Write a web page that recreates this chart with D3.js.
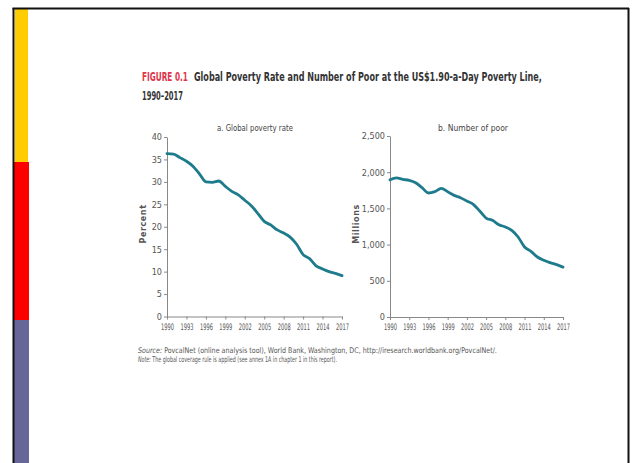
<!DOCTYPE html>
<html><head><meta charset="utf-8">
<script src="https://cdn.jsdelivr.net/npm/d3@7"></script>
<style>
html,body{margin:0;padding:0;background:#fff;}
svg{display:block;}
</style></head>
<body>
<svg id="chart" width="632" height="463"></svg>
<script>
// ---- data ----
const years = d3.range(1990, 2018);
const povertyRate = [36.3,36.2,35.4,34.6,33.5,31.8,30.0,29.9,30.2,29.0,27.9,27.1,25.9,24.7,23.0,21.2,20.4,19.3,18.6,17.7,16.1,13.8,12.9,11.3,10.6,10.0,9.6,9.1];
const numberPoor = [1895,1922,1901,1888,1855,1786,1713,1731,1777,1731,1680,1648,1602,1556,1464,1367,1335,1275,1243,1197,1105,967,907,829,783,750,723,689];
const xTickYears = [1990,1993,1996,1999,2002,2005,2008,2011,2014,2017];
const rateTicks = [0,5,10,15,20,25,30,35,40];
const poorTicks = [0,500,1000,1500,2000,2500];
const titleRed = "FIGURE 0.1";
const titleMain = "Global Poverty Rate and Number of Poor at the US$1.90-a-Day Poverty Line,";
const titleLine2 = "1990–2017";
const panelTitles = ["a. Global poverty rate", "b. Number of poor"];
const axisTitles = ["Percent", "Millions"];
const sourceText = "PovcalNet (online analysis tool), World Bank, Washington, DC, http://iresearch.worldbank.org/PovcalNet/.";
const noteText = "The global coverage rule is applied (see annex 1A in chapter 1 in this report).";

const svg = d3.select("#chart");
const FONT = "'Liberation Sans Narrow','DejaVu Sans Condensed','Roboto Condensed',sans-serif";

// place a text element so that its rendered width equals `width`, starting at x (anchor start)
function fit(sel, x, y, width) {
  sel.attr("x", 0).attr("y", 0);
  const w = sel.node().getComputedTextLength();
  const k = width / w;
  sel.attr("transform", `translate(${x},${y}) scale(${k},1)`);
  return sel;
}

// ---- slide frame ----
svg.append("rect").attr("x",15).attr("y",9).attr("width",13).attr("height",153).attr("fill","#ffcc00");
svg.append("rect").attr("x",13).attr("y",162).attr("width",16).attr("height",158).attr("fill","#ff0000");
svg.append("rect").attr("x",14).attr("y",320).attr("width",15).attr("height",143).attr("fill","#666699");
svg.append("line").attr("x1",13.5).attr("x2",13.5).attr("y1",8).attr("y2",463).attr("stroke","#111").attr("stroke-width",2);
svg.append("line").attr("x1",12.5).attr("x2",629).attr("y1",8.5).attr("y2",8.5).attr("stroke","#111").attr("stroke-width",2);
svg.append("line").attr("x1",628.5).attr("x2",628.5).attr("y1",8).attr("y2",463).attr("stroke","#111").attr("stroke-width",2);

// ---- title ----
fit(svg.append("text").attr("font-family",FONT).attr("font-weight","bold")
  .attr("font-size",13).attr("fill","#e0344a").text(titleRed), 142, 80.5, 46);
fit(svg.append("text").attr("font-family",FONT).attr("font-weight","bold")
  .attr("font-size",13).attr("fill","#333").text(titleMain), 194, 80.5, 348);
fit(svg.append("text").attr("font-family",FONT).attr("font-weight","bold")
  .attr("font-size",13).attr("fill","#333").text(titleLine2), 142, 100, 41);

// ---- panels ----
const panels = [
  {data: povertyRate, ticks: rateTicks, max: 40, x0: 167, x1: 342, y0: 316.5, y1: 137, fmt: d3.format("d"),
   title: panelTitles[0], tx: 217, tlen: 76, axis: axisTitles[0], ax: 146},
  {data: numberPoor, ticks: poorTicks, max: 2500, x0: 390, x1: 563, y0: 317, y1: 136, fmt: d3.format(","),
   title: panelTitles[1], tx: 438, tlen: 70, axis: axisTitles[1], ax: 359}
];

panels.forEach(p => {
  const x = d3.scaleLinear().domain([1990, 2017]).range([p.x0, p.x1]);
  const y = d3.scaleLinear().domain([0, p.max]).range([p.y0, p.y1]);
  const g = svg.append("g");

  const xa = g.append("g").attr("transform", `translate(0,${p.y0})`)
    .call(d3.axisBottom(x).tickValues(xTickYears).tickFormat(d3.format("d")).tickSize(3).tickSizeOuter(0).tickPadding(4));
  const ya = g.append("g").attr("transform", `translate(${p.x0},0)`)
    .call(d3.axisLeft(y).tickValues(p.ticks).tickFormat(p.fmt).tickSize(3).tickSizeOuter(0).tickPadding(2));
  [xa, ya].forEach(a => {
    a.select(".domain").attr("stroke","#888").attr("stroke-width",1);
    a.selectAll(".tick line").attr("stroke","#888");
    a.selectAll("text").attr("font-family",FONT).attr("font-size",9).attr("fill","#555");
  });
  // condense year labels horizontally around their centre
  xa.selectAll(".tick text").each(function() {
    const t = d3.select(this);
    const w = this.getComputedTextLength();
    t.attr("transform", `scale(${13 / w},1)`);
  });

  g.append("path").datum(p.data)
    .attr("fill","none").attr("stroke","#1d7b8c").attr("stroke-width",2.8)
    .attr("stroke-linejoin","round").attr("stroke-linecap","round")
    .attr("d", d3.line().x((d,i) => x(years[i])).y(d => y(d)).curve(d3.curveMonotoneX));

  fit(svg.append("text").attr("font-family",FONT).attr("font-size",9).attr("fill","#444").text(p.title),
      p.tx, 131, p.tlen);

  svg.append("text").attr("transform", `translate(${p.ax},224) rotate(-90)`).attr("text-anchor","middle")
    .attr("font-family","'DejaVu Sans',sans-serif").attr("font-weight","bold").attr("font-size",8).attr("fill","#555")
    .attr("letter-spacing",0.6).text(p.axis);
});

// ---- source / note ----
const src = svg.append("text").attr("font-family",FONT).attr("font-size",7.8).attr("fill","#555");
src.append("tspan").attr("font-style","italic").text("Source: ");
src.append("tspan").text(sourceText);
fit(src, 138, 352.5, 359);
const note = svg.append("text").attr("font-family",FONT).attr("font-size",7.8).attr("fill","#555");
note.append("tspan").attr("font-style","italic").text("Note: ");
note.append("tspan").text(noteText);
fit(note, 138, 362, 199);
</script>
</body></html>
